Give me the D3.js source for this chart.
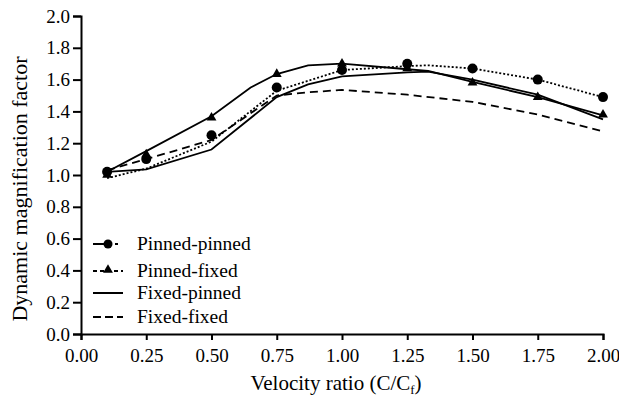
<!DOCTYPE html>
<html>
<head>
<meta charset="utf-8">
<script src="https://cdn.jsdelivr.net/npm/d3@7"></script>
<style>
    body { margin: 0; background: #fff; }
    svg text { font-family: "Liberation Serif", "Times New Roman", serif; fill: #000; }
</style>
</head>
<body>
<svg id="chart" width="619" height="402"></svg>
<script>
// Data
const markerX = [0.1, 0.25, 0.5, 0.75, 1.0, 1.25, 1.5, 1.75, 2.0]
const pinnedPinnedPts = [1.02, 1.10, 1.25, 1.55, 1.66, 1.70, 1.67, 1.60, 1.49]
const pinnedFixedPts = [1.00, 1.13, 1.36, 1.635, 1.70, 1.67, 1.58, 1.49, 1.38]

const pinnedPinnedX = [0.1, 0.25, 0.5, 0.75, 1.0, 1.25, 1.33, 1.5, 1.75, 2.0]
const pinnedPinnedY = [0.98, 1.04, 1.21, 1.53, 1.66, 1.685, 1.69, 1.67, 1.60, 1.49]

const pinnedFixedX = [0.1, 0.25, 0.5, 0.65, 0.75, 0.87, 1.0, 1.25, 1.33, 1.5, 1.75, 2.0]
const pinnedFixedY = [1.02, 1.15, 1.37, 1.55, 1.635, 1.69, 1.70, 1.665, 1.655, 1.585, 1.49, 1.375]

const fixedPinnedX = [0.1, 0.25, 0.5, 0.75, 0.87, 1.0, 1.25, 1.33, 1.5, 1.75, 2.0]
const fixedPinnedY = [1.02, 1.035, 1.16, 1.49, 1.57, 1.62, 1.645, 1.65, 1.60, 1.505, 1.35]

const fixedFixedX = [0.1, 0.25, 0.5, 0.75, 0.87, 1.0, 1.25, 1.5, 1.75, 2.0]
const fixedFixedY = [1.03, 1.10, 1.22, 1.50, 1.52, 1.535, 1.505, 1.46, 1.38, 1.275]

const xTicks = [0, 0.25, 0.5, 0.75, 1.0, 1.25, 1.5, 1.75, 2.0]
const yTicks = [0, 0.2, 0.4, 0.6, 0.8, 1.0, 1.2, 1.4, 1.6, 1.8, 2.0]
const legendLabels = ["Pinned-pinned", "Pinned-fixed", "Fixed-pinned", "Fixed-fixed"]

const svg = d3.select("#chart")
const plotLeft = 81, plotRight = 603, plotTop = 16, plotBottom = 334

const xScale = d3.scaleLinear().domain([0, 2]).range([plotLeft, plotRight])
const yScale = d3.scaleLinear().domain([0, 2]).range([plotBottom, plotTop])

// Axes
const xAxis = svg.append('g')
    .attr('transform', `translate(0,${plotBottom})`)
    .call(d3.axisBottom(xScale).tickValues(xTicks).tickFormat(d3.format('.2f')).tickSizeOuter(0).tickSize(6).tickPadding(6))
const yAxis = svg.append('g')
    .attr('transform', `translate(${plotLeft},0)`)
    .call(d3.axisLeft(yScale).tickValues(yTicks).tickFormat(d3.format('.1f')).tickSizeOuter(0).tickSize(8).tickPadding(3))

for (const ax of [xAxis, yAxis]) {
    ax.select('.domain').attr('stroke', '#000').attr('stroke-width', 2)
    ax.selectAll('.tick line').attr('stroke', '#000').attr('stroke-width', 2)
    ax.selectAll('.tick text').style('font-size', '19px').attr('fill', '#000')
}
xAxis.selectAll('.tick text').attr('dy', '0.85em')

// Axis titles
svg.append('text')
    .attr('transform', `translate(27,${189}) rotate(-90)`)
    .attr('text-anchor', 'middle')
    .style('font-size', '22px')
    .text('Dynamic magnification factor')

const xTitle = svg.append('text')
    .attr('x', 336)
    .attr('y', 390)
    .attr('text-anchor', 'middle')
    .style('font-size', '21px')
xTitle.append('tspan').text('Velocity ratio (C/C')
xTitle.append('tspan').attr('baseline-shift', '-30%').style('font-size', '13px').text('f')
xTitle.append('tspan').text(')')

// Lines
const line = d3.line().x(d => xScale(d[0])).y(d => yScale(d[1]))
const series = [
    { x: pinnedPinnedX, y: pinnedPinnedY, dash: '2,2', width: 1.8 },
    { x: pinnedFixedX, y: pinnedFixedY, dash: null, width: 1.8 },
    { x: fixedPinnedX, y: fixedPinnedY, dash: null, width: 1.8 },
    { x: fixedFixedX, y: fixedFixedY, dash: '8,5', width: 1.8 }
]
for (const s of series) {
    svg.append('path')
        .datum(d3.zip(s.x, s.y))
        .attr('d', line)
        .attr('fill', 'none')
        .attr('stroke', '#000')
        .attr('stroke-width', s.width)
        .attr('stroke-dasharray', s.dash)
}

// Markers
svg.append('g').selectAll('circle')
    .data(d3.zip(markerX, pinnedPinnedPts))
    .join('circle')
    .attr('cx', d => xScale(d[0]))
    .attr('cy', d => yScale(d[1]))
    .attr('r', 5)
    .attr('fill', '#000')

const tri = d3.symbol().type(d3.symbolTriangle).size(42)
svg.append('g').selectAll('path')
    .data(d3.zip(markerX, pinnedFixedPts))
    .join('path')
    .attr('d', tri)
    .attr('transform', d => `translate(${xScale(d[0])},${yScale(d[1])})`)
    .attr('fill', '#000')

// Legend
const legendY = [244, 271, 293, 317]
const legendDash = ['12,3,3,4,3', '4,3', null, '8,4']
legendLabels.forEach((label, i) => {
    const g = svg.append('g').attr('transform', `translate(0,${legendY[i]})`)
    g.append('line')
        .attr('x1', 93).attr('x2', 123)
        .attr('stroke', '#000')
        .attr('stroke-width', 2)
        .attr('stroke-dasharray', legendDash[i])
    if (i == 0) g.append('circle').attr('cx', 108).attr('r', 4.5).attr('fill', '#000')
    if (i == 1) g.append('path').attr('d', tri).attr('transform', 'translate(108,-1)').attr('fill', '#000')
    g.append('text')
        .attr('x', 137)
        .attr('dy', '0.32em')
        .style('font-size', '19.5px')
        .text(label)
})
</script>
</body>
</html>
